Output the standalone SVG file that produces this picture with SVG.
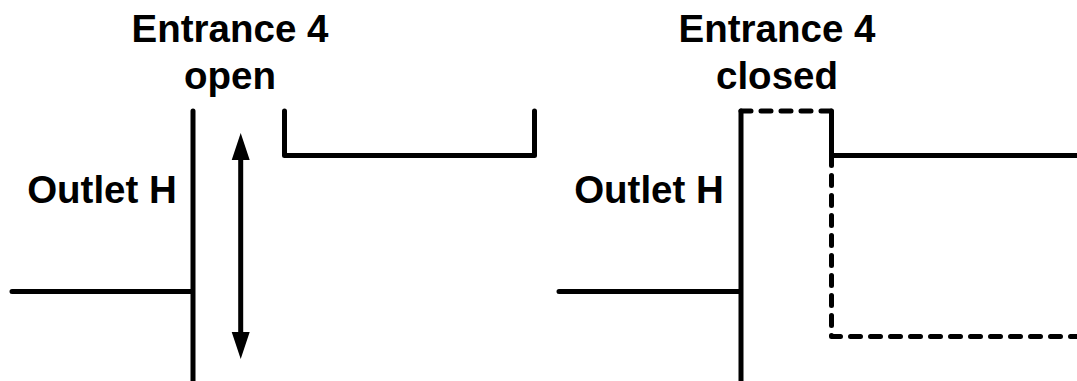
<svg xmlns="http://www.w3.org/2000/svg" width="1077" height="381" viewBox="0 0 1077 381">
<style>
.l{fill:none;stroke:#000;stroke-width:5;stroke-linecap:round;stroke-linejoin:round}
.d{fill:none;stroke:#000;stroke-width:5;stroke-linecap:round;stroke-linejoin:round;stroke-dasharray:10 10}
.t{font-family:"Liberation Sans",Arial,sans-serif;font-weight:bold;font-size:38.5px;fill:#000;text-anchor:middle}
</style>
<g id="left-labels">
<text class="t" x="230" y="41.500">Entrance 4</text>
<text class="t" x="230" y="88.500">open</text>
<text class="t" x="102" y="202.500">Outlet H</text>
</g>
<g id="right-labels">
<text class="t" x="777" y="41.500">Entrance 4</text>
<text class="t" x="777" y="88.500">closed</text>
<text class="t" x="649" y="202.500">Outlet H</text>
</g>
<g id="connectors">
<path class="l" d="M193 111V381M12 291.500H193"/>
<path class="l" d="M284.500 111V155.500H534.500V111"/>
<path d="M240.700 150V340" fill="none" stroke="#000" stroke-width="5"/>
<path d="M240.700 133L249.700 160H231.700ZM240.700 359L231.700 332H249.700Z" fill="#000"/>
<path class="l" d="M741 111V381M559 291.500H741"/>
<path class="l" d="M831.500 111V155.500H1077"/>
<path class="d" d="M741 111H831.500"/>
<path class="d" d="M831.500 155.500V336.500H1077"/>
</g>
</svg>
